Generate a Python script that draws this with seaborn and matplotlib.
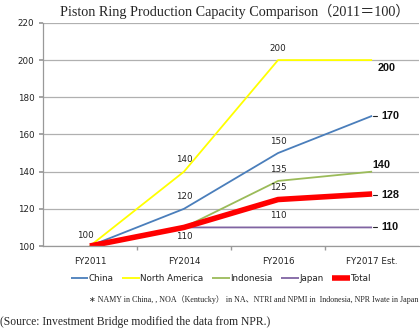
import matplotlib
matplotlib.use("Agg")
import matplotlib.pyplot as plt
import seaborn as sns
import pandas as pd
from matplotlib.ticker import FixedLocator

years = ["FY2011", "FY2014", "FY2016", "FY2017 Est."]
china = [100, 120, 150, 170]
north_america = [100, 140, 200, 200]
indonesia = [100, 110, 135, 140]
japan = [100, 110, 110, 110]
total = [100, 110, 125, 128]

series_names = ["China", "North America", "Indonesia", "Japan", "Total"]
series_values = [china, north_america, indonesia, japan, total]
colors = ["#4a7ebb", "#ffff00", "#9bbb59", "#8064a2", "#ff0000"]
widths = [1.3, 1.3, 1.3, 1.3, 4.0]

title_text = "Piston Ring Production Capacity Comparison（2011＝100）"
note_text = "∗ NAMY in China, , NOA（Kentucky） in NA、NTRI and NPMI in  Indonesia, NPR Iwate in Japan"
source_text = "(Source: Investment Bridge modified the data from NPR.)"

df = pd.DataFrame(
    [(name, i, v) for name, vals in zip(series_names, series_values) for i, v in enumerate(vals)],
    columns=["series", "pos", "value"],
)

sns.set_theme(style="white")
plt.rcParams["font.family"] = ["DejaVu Sans"]

fig = plt.figure(figsize=(4.2, 3.32), dpi=100)
ax = fig.add_axes([0.102, 0.259, 0.896, 0.672])

for name, col, lw in zip(series_names, colors, widths):
    sns.lineplot(data=df[df["series"] == name], x="pos", y="value", color=col,
                 linewidth=lw, ax=ax, label=name, solid_capstyle="butt")

ax.set_xlim(-0.5, 3.5)
ax.set_ylim(100, 220)
ax.set_yticks(range(100, 221, 20))
ax.set_xticks(range(len(years)))
ax.set_xticklabels(years)
ax.xaxis.set_minor_locator(FixedLocator([0.5, 1.5, 2.5]))
ax.tick_params(axis="x", which="major", length=0, labelsize=6.3, pad=8, colors="#222222")
ax.tick_params(axis="x", which="minor", length=3, color="#999999", bottom=True)
ax.tick_params(axis="y", length=3, color="#999999", left=True, labelsize=6.3, pad=3, colors="#222222")
ax.set_xlabel("")
ax.set_ylabel("")
ax.grid(axis="y", color="#b0b0b0", linewidth=0.9)
for s in ["top", "right"]:
    ax.spines[s].set_visible(False)
for s in ["left", "bottom"]:
    ax.spines[s].set_color("#999999")
    ax.spines[s].set_linewidth(0.9)

# value labels at intermediate points
lbl = dict(fontsize=6.3, ha="center", color="#222222")
ax.text(0 - 0.05, china[0] + 3.5, str(china[0]), va="bottom", **lbl)
ax.text(1, north_america[1] + 4, str(north_america[1]), va="bottom", **lbl)
ax.text(1, china[1] + 4, str(china[1]), va="bottom", **lbl)
ax.text(1, japan[1] - 2.5, str(japan[1]), va="top", **lbl)
ax.text(2, north_america[2] + 4, str(north_america[2]), va="bottom", **lbl)
ax.text(2, china[2] + 4, str(china[2]), va="bottom", **lbl)
ax.text(2, indonesia[2] + 4, str(indonesia[2]), va="bottom", **lbl)
ax.text(2, total[2] + 4, str(total[2]), va="bottom", **lbl)
ax.text(2, japan[2] + 4, str(japan[2]), va="bottom", **lbl)

# bold end labels with short leader marks
end = dict(fontsize=7.8, fontweight="bold", family="Liberation Sans", color="#111111", va="center")
ax.text(3.06, north_america[3] - 4, str(north_america[3]), **end)
ax.text(3.1, china[3], str(china[3]), **end)
ax.text(3.0, indonesia[3] + 3.5, str(indonesia[3]), **end)
ax.text(3.095, total[3] - 0.8, str(total[3]), **end)
ax.text(3.095, japan[3], str(japan[3]), **end)
for v in [china[3], total[3] - 0.8, japan[3]]:
    ax.plot([3.005, 3.055], [v, v], color="#222222", linewidth=0.8)

leg = ax.legend(loc="upper center", bbox_to_anchor=(0.473, -0.09), ncol=5, frameon=False,
                fontsize=6.3, handlelength=2.0, handletextpad=0.05, columnspacing=1.0)
for t in leg.get_texts():
    t.set_color("#222222")

fig.text(0.559, 0.965, title_text, ha="center", va="center", fontsize=10.2,
         family=["Liberation Serif", "Noto Sans CJK JP"])
fig.text(0.995, 0.097, note_text, ha="right", va="center", fontsize=5.75,
         family=["Liberation Serif", "Noto Sans CJK JP", "DejaVu Sans"])
fig.text(0.0, 0.03, source_text, ha="left", va="center", fontsize=8.4,
         family=["Liberation Serif"])

fig.savefig("out.png", dpi=100, facecolor="white")
